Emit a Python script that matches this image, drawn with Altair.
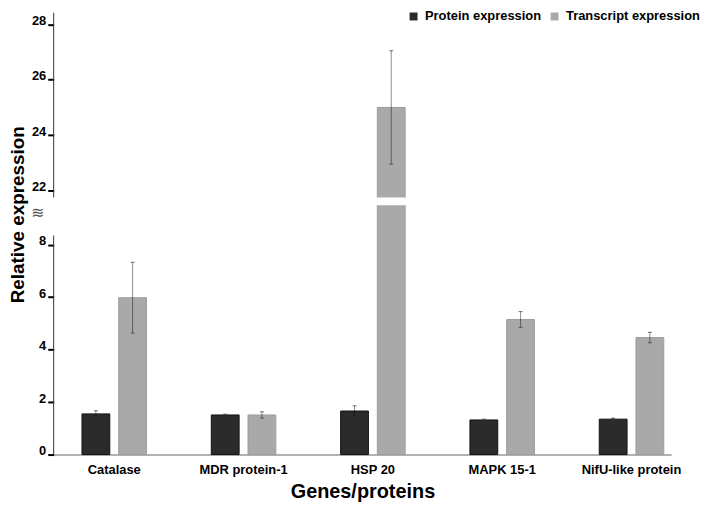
import altair as alt
import pandas as pd

categories = ["Catalase", "MDR protein-1", "HSP 20", "MAPK 15-1", "NifU-like protein"]
series = ["Protein expression", "Transcript expression"]
protein = [1.55, 1.51, 1.66, 1.32, 1.35]
protein_err = [0.12, 0.03, 0.20, 0.03, 0.04]
transcript = [5.98, 1.51, 25.0, 5.15, 4.46]
transcript_err = [1.35, 0.12, 2.05, 0.30, 0.20]
y_ticks = [0, 2, 4, 6, 8, 22, 24, 26, 28]
break_lo, break_hi = 9.5, 21.75   # the broken part of the y axis
y_top = 28.42
lower_axis_top = 8.35

rows = []
for i, c in enumerate(categories):
    rows.append(dict(cat=c, series=series[0], value=protein[i], err=protein_err[i]))
    rows.append(dict(cat=c, series=series[1], value=transcript[i], err=transcript_err[i]))
df = pd.DataFrame(rows)
df["lo"] = df["value"] - df["err"]
df["hi"] = df["value"] + df["err"]

FONT = "Liberation Sans"
W, H = 622, 445
YTITLE = "Relative expression"

# piecewise linear y scale with a gap (break) between break_lo and break_hi
yscale = alt.Scale(domain=[0, break_lo, break_hi, y_top],
                   range=[H, 194, 186, 0], nice=False, zero=False)
xscale = alt.Scale(paddingInner=0.386, paddingOuter=0.0807, align=1)
x = alt.X("cat:N", sort=categories, scale=xscale,
          axis=alt.Axis(title="Genes/proteins", labelAngle=0, ticks=False, tickSize=0,
                        domainColor="#999999", domainWidth=1.5,
                        labelFont=FONT, labelFontSize=13, labelFontWeight="bold",
                        labelColor="black", labelPadding=9,
                        titleFont=FONT, titleFontSize=20, titleFontWeight="bold",
                        titleColor="black", titlePadding=5))
xoff = alt.XOffset("series:N", sort=series,
                   scale=alt.Scale(paddingInner=0.243, paddingOuter=0.2027))
color = alt.Color("series:N", sort=series,
                  scale=alt.Scale(domain=series, range=["#2b2b2b", "#a9a9a9"]),
                  legend=alt.Legend(title=None, orient="none", legendX=356, legendY=-3,
                                    direction="horizontal", symbolType="square",
                                    symbolSize=64, symbolStrokeWidth=0,
                                    labelFont=FONT, labelFontSize=13,
                                    labelFontWeight="bold", labelColor="black",
                                    labelOffset=5, columnPadding=6))
stroke = alt.Stroke("series:N", sort=series,
                    scale=alt.Scale(domain=series, range=["#111111", "#9c9c9c"]),
                    legend=None)
yaxis = alt.Axis(values=y_ticks, domain=False, tickColor="black", tickWidth=2, tickSize=6,
                 grid=False, labelFont=FONT, labelFontSize=13, labelFontWeight="bold",
                 labelColor="black", labelPadding=2, labelBaseline="alphabetic",
                 title=YTITLE, titleFont=FONT, titleFontSize=19, titleFontWeight="bold",
                 titleColor="black", titlePadding=4, titleY=203)

base = alt.Chart(df)
bars = base.mark_bar(strokeWidth=1).encode(
    x=x, xOffset=xoff,
    y=alt.Y("value:Q", scale=yscale, stack=None, axis=yaxis, title=YTITLE),
    color=color, stroke=stroke)
rules = base.mark_rule(color="black", opacity=0.45, strokeWidth=1).encode(
    x=x, xOffset=xoff, y=alt.Y("lo:Q", title=YTITLE), y2="hi:Q")
cap_hi = base.mark_tick(color="#333333", size=4, thickness=1).encode(
    x=x, xOffset=xoff, y=alt.Y("hi:Q", title=YTITLE))
cap_lo = base.mark_tick(color="#333333", size=4, thickness=1).encode(
    x=x, xOffset=xoff, y=alt.Y("lo:Q", title=YTITLE))

# white band that cuts the bars at the axis break
gap = alt.Chart(pd.DataFrame({"a": [break_lo], "b": [break_hi]})).mark_rect(
    color="white").encode(x=alt.value(1), x2=alt.value(W),
                          y=alt.Y("a:Q", title=YTITLE), y2="b:Q")
# the two pieces of the y-axis line
axis_lines = alt.Chart(pd.DataFrame({"a": [0, break_hi], "b": [lower_axis_top, y_top]})).mark_rule(
    color="#333333", strokeWidth=1).encode(x=alt.value(0), y=alt.Y("a:Q", title=YTITLE), y2="b:Q")
brk = alt.Chart(pd.DataFrame({"t": ["≋"]})).mark_text(
    font="DejaVu Sans", fontSize=16, color="#555555").encode(
    x=alt.value(-16), y=alt.datum(9.2), text="t:N")

chart = alt.layer(bars, rules, cap_hi, cap_lo, gap, axis_lines, brk).properties(
    width=W, height=H, padding=0
).configure_view(strokeWidth=0)

chart.save("out.html", embed_options={"renderer": "svg", "actions": False})
